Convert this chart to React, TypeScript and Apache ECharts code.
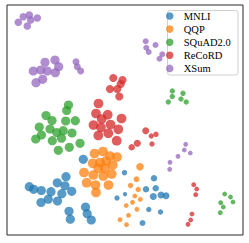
import React, { useEffect, useRef } from "react";
import * as echarts from "echarts";

// Each point: [x, y, size] (t-SNE style coordinates)
const categories = ["MNLI", "QQP", "SQuAD2.0", "ReCoRD", "XSum"];

const mnli: number[][] = [
  [29.3, 186.7, 8.5], [33.7, 189.3, 8.5], [41.3, 190.5, 8.5], [66, 176.7, 8.5],
  [57.3, 182.8, 8.5], [65, 185.8, 8.5], [51, 191.7, 8.5], [61.8, 193.7, 8.5],
  [71.7, 191.3, 8.5], [48.3, 199.2, 8.5], [41, 202.5, 8.5], [57.5, 201, 8.5],
  [69, 211.3, 8.5], [70.3, 219.2, 8.5], [85.5, 207, 8.5], [87.2, 213.7, 8.5],
  [91.3, 220, 8.5], [83.3, 159.3, 8.5],
  [124.5, 172.7, 5], [117, 198, 5], [125, 194.2, 4], [154, 178.3, 6],
  [146, 189.3, 6], [155.7, 188.3, 6], [153.3, 196.5, 6.5], [161, 195, 6.5],
  [166, 195.7, 6.5], [148.8, 209.5, 5], [160.5, 212, 5], [142.5, 223, 5.5],
];

const qqp: number[][] = [
  [94.5, 153.5, 9], [103, 151.5, 9], [110, 156, 9], [117, 157, 9],
  [92.7, 163.3, 9], [100, 162.5, 9], [106, 161, 9], [112.7, 165, 9],
  [98.3, 168.3, 9], [105, 168.3, 9], [84, 172.5, 9], [93.3, 175, 9],
  [103.3, 176, 9], [111.7, 174, 9], [86.7, 182.7, 9], [95.5, 185, 9],
  [108.5, 185, 9], [96, 192.5, 9],
  [140, 166.7, 7], [136.5, 179.3, 5.5], [130.5, 185.5, 5], [138.2, 189.5, 5],
  [134.8, 196, 4.5], [140.3, 199.3, 4.5], [132.5, 202.3, 4.5], [126.2, 205.5, 4.5],
  [137, 209.3, 4.5], [128.5, 215.3, 4.5], [120, 219.7, 4.5], [126.5, 224.7, 4.5],
];

const squad: number[][] = [
  [68.5, 105, 8.5], [66.7, 110.5, 8.5], [46, 115.5, 8.5], [52, 120.5, 8.5],
  [65.7, 121, 8.5], [75.3, 120.7, 8.5], [39.3, 127, 8.5], [50, 129, 8.5],
  [56.7, 132.5, 8.5], [63.3, 130.7, 8.5], [72, 133, 8.5], [41.5, 135, 8.5],
  [35.7, 139, 8.5], [52.3, 140.7, 8.5], [61.5, 138.2, 8.5], [58.3, 150.3, 8.5],
  [69.3, 147.3, 8.5], [80, 143.3, 8.5],
  [172.3, 91, 5], [172.3, 96.5, 5], [168.3, 102, 5], [183, 93.3, 5],
  [181, 99, 5], [186.2, 102, 5],
  [224.7, 194, 4.5], [230.5, 197, 4.5], [233, 202, 4.5], [220.7, 202.7, 4.5],
  [223.3, 207, 4.5], [220.3, 212.7, 4.5],
];

const record: number[][] = [
  [113.3, 78, 7.5], [122.5, 80, 7.5], [120.7, 84, 7.5], [110, 89, 7.5],
  [117.3, 89, 7.5], [119.3, 96.5, 7.5],
  [98.5, 103.5, 9], [96, 113.5, 9], [107.7, 114.7, 9], [101.7, 119, 9],
  [121.5, 118.5, 9], [93.5, 125, 9], [110.5, 124.5, 9], [101, 127.5, 9],
  [118.3, 129.3, 9], [108.3, 133.3, 9], [98.3, 135.5, 9], [116.7, 140.7, 9],
  [145.7, 130.7, 6.5], [151.3, 136, 5], [156, 134.3, 5], [152, 144, 5],
  [137.3, 143.3, 6.5], [131.7, 147.3, 6],
  [193.7, 184.7, 4.5], [196.7, 189, 4.5], [195.7, 194.7, 4.5], [192, 214, 4.5],
  [190.7, 220, 4.5], [188, 224.3, 4.5],
];

const xsum: number[][] = [
  [18.3, 22.3, 7], [23.3, 16.7, 7], [29.3, 15, 7], [30.7, 20, 7],
  [37.3, 18, 7], [27.3, 26, 7],
  [33.3, 71, 8.5], [40.7, 70, 8.5], [45, 62.3, 8.5], [47.3, 71, 8.5],
  [55, 60, 8.5], [58.7, 66.7, 8.5], [55.3, 72.7, 8.5], [42.7, 79.3, 8.5],
  [36, 82.7, 8.5],
  [76, 61.7, 6.5], [77.3, 66.7, 6.5], [80.7, 71, 6.5],
  [145.7, 41.3, 5.5], [146.3, 47.7, 5.5], [148.7, 52, 5.5], [155.5, 45, 5.5],
  [162.3, 54.3, 5.5], [159.5, 58.7, 5.5],
  [185.7, 144.3, 4.5], [184.3, 150, 4.5], [190.3, 153, 4.5], [178, 156.3, 4.5],
  [170, 162.3, 4.5], [169.7, 169.3, 4.5],
];

const seriesData = [mnli, qqp, squad, record, xsum];
const colors = ["#1f77b4", "#ff7f0e", "#2ca02c", "#d62728", "#9467bd"];

export default function App() {
  const ref = useRef<HTMLDivElement>(null);
  useEffect(() => {
    if (!ref.current) return;
    const chart = echarts.init(ref.current, undefined, { renderer: "svg" });
    chart.setOption({
      animation: false,
      grid: {
        left: 7,
        top: 5,
        width: 236,
        height: 230,
        show: true,
        borderColor: "#262626",
        borderWidth: 1,
        backgroundColor: "transparent",
      },
      xAxis: {
        type: "value",
        min: 7,
        max: 243,
        axisLine: { show: false },
        axisTick: { show: false },
        axisLabel: { show: false },
        splitLine: { show: false },
      },
      yAxis: {
        type: "value",
        min: 5,
        max: 235,
        inverse: true,
        axisLine: { show: false },
        axisTick: { show: false },
        axisLabel: { show: false },
        splitLine: { show: false },
      },
      legend: {
        orient: "vertical",
        left: 166,
        top: 10,
        padding: 0,
        itemWidth: 18,
        itemHeight: 7.5,
        itemGap: 1.1,
        icon: "circle",
        z: 5,
        textStyle: {
          fontFamily: "Liberation Serif",
          fontSize: 10.5,
          color: "#000",
          lineHeight: 12,
        },
        data: categories,
      },
      graphic: [
        {
          type: "rect",
          z: 4,
          shape: { x: 167.5, y: 10.5, width: 70.5, height: 64.5, r: 2.5 },
          style: { fill: "#ffffff", stroke: "#d0d0d0", lineWidth: 1 },
        },
      ],
      series: categories.map((name, i) => ({
        name,
        type: "scatter",
        data: seriesData[i],
        symbol: "circle",
        symbolSize: (v: number[]) => v[2] * 1.08,
        itemStyle: { color: colors[i], opacity: 0.75 },
      })),
    });
    return () => chart.dispose();
  }, []);
  return (
    <div
      ref={ref}
      style={{ position: "absolute", left: 0, top: 0, width: 249, height: 243 }}
    />
  );
}
